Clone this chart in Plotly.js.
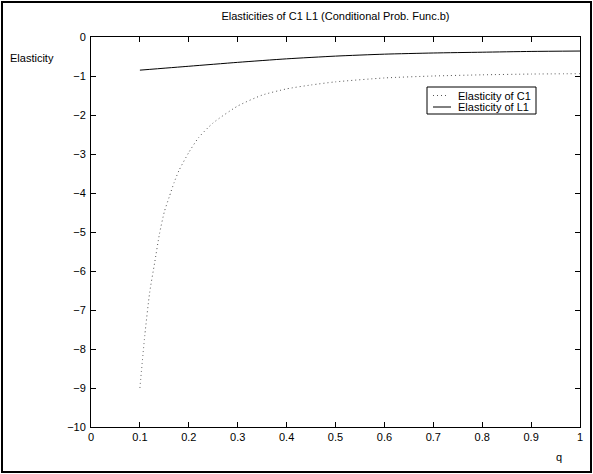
<!DOCTYPE html>
<html>
<head>
<meta charset="utf-8">
<script src="https://cdn.plot.ly/plotly-3.0.1.min.js"></script>
<style>
html,body{margin:0;padding:0;background:#fff;}
#wrap{position:relative;width:593px;height:474px;}
#chart{position:absolute;left:0;top:0;width:593px;height:474px;}
#frame{position:absolute;left:1px;top:1px;width:591px;height:472px;box-sizing:border-box;border:2px solid #000;pointer-events:none;}
</style>
</head>
<body>
<div id="wrap"><div id="chart"></div><div id="frame"></div></div>
<script>
// Data
const qC1 = [0.10, 0.11, 0.12, 0.13, 0.14, 0.15, 0.16, 0.17, 0.18, 0.20, 0.22, 0.25, 0.30, 0.35, 0.40, 0.45, 0.50, 0.60, 0.70, 0.80, 0.90, 1.00];
const elastC1 = [-9.0, -7.65, -6.55, -5.8, -5.05, -4.48, -4.1, -3.73, -3.42, -2.96, -2.58, -2.2, -1.77, -1.49, -1.33, -1.23, -1.15, -1.05, -1.0, -0.97, -0.95, -0.94];
const qL1 = [0.1, 0.2, 0.3, 0.4, 0.5, 0.6, 0.7, 0.8, 0.9, 1.0];
const elastL1 = [-0.85, -0.75, -0.65, -0.56, -0.49, -0.44, -0.41, -0.39, -0.37, -0.36];
const seriesNames = ["Elasticity of C1", "Elasticity of L1"];
const xTicks = [0, 0.1, 0.2, 0.3, 0.4, 0.5, 0.6, 0.7, 0.8, 0.9, 1];
const xTickLabels = ["0", "0.1", "0.2", "0.3", "0.4", "0.5", "0.6", "0.7", "0.8", "0.9", "1"];
const yTicks = [0, -1, -2, -3, -4, -5, -6, -7, -8, -9, -10];

const W = 593, H = 474;
const M = {l: 91, r: 13, t: 37, b: 47};
const PW = W - M.l - M.r, PH = H - M.t - M.b;
const px = x => (x - M.l) / PW;        // pixel -> paper x
const py = y => (H - M.b - y) / PH;    // pixel -> paper y

const font = {family: "Liberation Sans, Arial, Helvetica, sans-serif", size: 11, color: "#000"};
const dotDash = "1px,3px";
const dotColor = "#555";

const traces = [
  {x: qC1, y: elastC1, name: seriesNames[0], mode: "lines",
   line: {color: dotColor, width: 1, dash: dotDash, shape: "spline", smoothing: 0.6}},
  {x: qL1, y: elastL1, name: seriesNames[1], mode: "lines",
   line: {color: "#000", width: 1, shape: "spline", smoothing: 0.6}}
];

const axisCommon = {
  showgrid: false, zeroline: false, showline: true, linecolor: "#000", linewidth: 1,
  mirror: "ticks", ticks: "inside", ticklen: 5, tickcolor: "#000", tickwidth: 1,
  tickfont: font
};

// compact MATLAB-style legend box
const shapes = [
  {type: "rect", xref: "paper", yref: "paper", x0: px(427), x1: px(536), y0: py(114), y1: py(87),
   line: {color: "#000", width: 1}, fillcolor: "#fff", layer: "above"},
  {type: "line", xref: "paper", yref: "paper", x0: px(433), x1: px(449), y0: py(95.5), y1: py(95.5),
   line: {color: dotColor, width: 1, dash: dotDash}, layer: "above"},
  {type: "line", xref: "paper", yref: "paper", x0: px(433), x1: px(451), y0: py(107), y1: py(107),
   line: {color: "#000", width: 1}, layer: "above"}
];

const layout = {
  width: W, height: H,
  margin: M,
  paper_bgcolor: "#fff", plot_bgcolor: "#fff",
  font: font,
  title: {text: "Elasticities of C1 L1 (Conditional Prob. Func.b)", font: font,
          x: 0.5, xref: "paper", xanchor: "center", y: 1 - 16/H, yref: "container", yanchor: "middle"},
  xaxis: Object.assign({}, axisCommon, {range: [0, 1], tickvals: xTicks, ticktext: xTickLabels}),
  yaxis: Object.assign({}, axisCommon, {range: [-10, 0], tickvals: yTicks, ticklabelstandoff: 2}),
  showlegend: false,
  shapes: shapes,
  annotations: [
    {text: "Elasticity", xref: "paper", yref: "paper", x: px(8), y: py(58), xanchor: "left", yanchor: "middle", showarrow: false, font: font},
    {text: "q", xref: "paper", yref: "paper", x: px(559), y: py(457), xanchor: "center", yanchor: "middle", showarrow: false, font: font},
    {text: seriesNames[0], xref: "paper", yref: "paper", x: px(456), y: py(95.5), xanchor: "left", yanchor: "middle", showarrow: false, font: font},
    {text: seriesNames[1], xref: "paper", yref: "paper", x: px(456), y: py(106.5), xanchor: "left", yanchor: "middle", showarrow: false, font: font}
  ]
};

Plotly.newPlot("chart", traces, layout, {staticPlot: true, displayModeBar: false});
</script>
</body>
</html>
